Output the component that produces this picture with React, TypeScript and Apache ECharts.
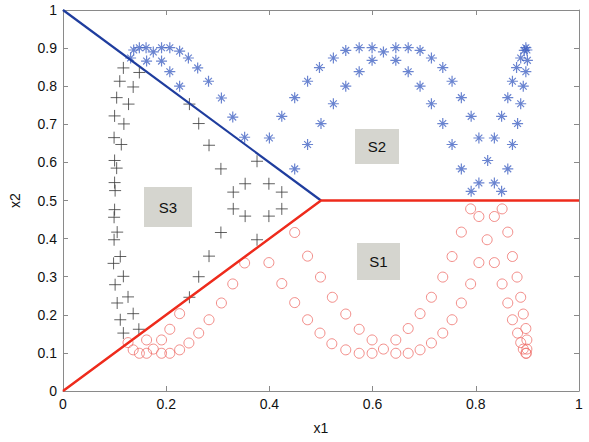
import React, { useEffect, useRef } from "react";
import * as echarts from "echarts";

// S2 samples (blue asterisks)
const s2Points: number[][] = [
  [0.131, 0.874], [0.137, 0.895], [0.148, 0.901], [0.161, 0.901], [0.175, 0.89], [0.191, 0.901],
  [0.207, 0.901], [0.226, 0.892], [0.243, 0.874], [0.261, 0.848], [0.282, 0.813], [0.307, 0.769],
  [0.329, 0.719], [0.352, 0.666],
  [0.162, 0.866], [0.191, 0.866], [0.207, 0.838], [0.226, 0.8],
  [0.4, 0.664], [0.424, 0.721], [0.449, 0.77], [0.474, 0.813], [0.497, 0.849], [0.524, 0.874],
  [0.548, 0.894], [0.574, 0.901], [0.599, 0.901], [0.621, 0.89], [0.645, 0.901], [0.669, 0.901],
  [0.692, 0.894], [0.714, 0.874], [0.736, 0.849], [0.754, 0.813], [0.772, 0.77], [0.791, 0.721],
  [0.806, 0.664], [0.823, 0.605], [0.836, 0.664], [0.85, 0.721], [0.862, 0.77], [0.871, 0.813],
  [0.879, 0.849], [0.887, 0.874], [0.894, 0.894], [0.897, 0.901],
  [0.449, 0.583], [0.474, 0.647], [0.5, 0.702], [0.524, 0.754], [0.548, 0.8], [0.574, 0.838],
  [0.599, 0.868], [0.645, 0.868], [0.669, 0.838], [0.692, 0.8], [0.714, 0.754], [0.736, 0.702],
  [0.754, 0.647], [0.772, 0.583], [0.791, 0.524], [0.806, 0.546], [0.836, 0.546], [0.85, 0.524],
  [0.862, 0.583], [0.871, 0.647], [0.881, 0.702], [0.887, 0.754], [0.892, 0.8], [0.897, 0.838],
  [0.9, 0.868], [0.899, 0.895],
];

// S3 samples (black plus)
const s3Points: number[][] = [
  [0.117, 0.848], [0.148, 0.836], [0.11, 0.813], [0.136, 0.798], [0.104, 0.77], [0.127, 0.753],
  [0.1, 0.722], [0.118, 0.701], [0.099, 0.665], [0.113, 0.647], [0.1, 0.605], [0.104, 0.585],
  [0.1, 0.547], [0.101, 0.526], [0.1, 0.476], [0.099, 0.456], [0.105, 0.417], [0.099, 0.397],
  [0.111, 0.353], [0.098, 0.335], [0.117, 0.301], [0.101, 0.279], [0.126, 0.247], [0.105, 0.231],
  [0.136, 0.203], [0.111, 0.187], [0.147, 0.162], [0.117, 0.152],
  [0.245, 0.753], [0.263, 0.702], [0.283, 0.645], [0.306, 0.583], [0.33, 0.522], [0.353, 0.544],
  [0.376, 0.603], [0.399, 0.544], [0.424, 0.522], [0.33, 0.478], [0.353, 0.459], [0.376, 0.397],
  [0.399, 0.459], [0.424, 0.478], [0.306, 0.416], [0.283, 0.354], [0.263, 0.3], [0.245, 0.246],
];

// S1 samples (red circles)
const s1Points: number[][] = [
  [0.126, 0.127], [0.136, 0.108], [0.148, 0.099], [0.162, 0.099], [0.175, 0.11], [0.191, 0.099],
  [0.207, 0.099], [0.226, 0.108], [0.244, 0.126], [0.263, 0.152], [0.283, 0.187], [0.307, 0.231],
  [0.329, 0.281], [0.352, 0.336],
  [0.162, 0.134], [0.191, 0.134], [0.207, 0.162], [0.226, 0.203],
  [0.399, 0.337], [0.424, 0.282], [0.449, 0.232], [0.474, 0.187], [0.498, 0.152], [0.521, 0.124],
  [0.548, 0.108], [0.574, 0.099], [0.599, 0.099], [0.621, 0.11], [0.645, 0.099], [0.669, 0.099],
  [0.692, 0.108], [0.714, 0.126], [0.736, 0.152], [0.754, 0.187], [0.772, 0.231], [0.79, 0.281],
  [0.806, 0.337], [0.822, 0.397], [0.836, 0.337], [0.851, 0.281], [0.862, 0.231], [0.871, 0.187],
  [0.881, 0.152], [0.887, 0.127], [0.892, 0.11], [0.897, 0.099],
  [0.449, 0.416], [0.474, 0.354], [0.499, 0.299], [0.522, 0.246], [0.548, 0.202], [0.574, 0.162],
  [0.599, 0.134], [0.645, 0.134], [0.669, 0.164], [0.692, 0.203], [0.714, 0.246], [0.736, 0.299],
  [0.754, 0.353], [0.772, 0.417], [0.79, 0.478], [0.806, 0.458], [0.836, 0.458], [0.851, 0.478],
  [0.862, 0.417], [0.871, 0.353], [0.88, 0.299], [0.887, 0.246], [0.892, 0.202], [0.897, 0.164],
  [0.899, 0.134], [0.899, 0.11], [0.898, 0.099],
];

const blueBoundary: number[][] = [[0, 1], [0.5, 0.5]];
const redBoundary: number[][] = [[0, 0], [0.5, 0.5], [1, 0.5]];

const regionLabels = [
  { text: "S3", x: 144, y: 187, w: 48, h: 40 },
  { text: "S2", x: 355, y: 129, w: 44, h: 35 },
  { text: "S1", x: 357, y: 243, w: 43, h: 37 },
];

const FONT = "'Liberation Sans', Arial, sans-serif";

export default function App() {
  const ref = useRef<HTMLDivElement>(null);
  useEffect(() => {
    if (!ref.current) return;
    const chart = echarts.init(ref.current, null, { renderer: "svg" });
    const axisCommon = {
      type: "value" as const,
      min: 0,
      max: 1,
      axisLine: { show: true, onZero: false, lineStyle: { color: "#8a8a8a", width: 1 } },
      axisTick: { show: true, inside: true, length: 5, lineStyle: { color: "#8a8a8a" } },
      splitLine: { show: false },
    };
    const labelStyle = { color: "#111", fontSize: 14, fontFamily: FONT };
    chart.setOption({
      animation: false,
      backgroundColor: "#ffffff",
      grid: { left: 56, right: 10, top: 10, bottom: 51, containLabel: false },
      xAxis: [
        {
          ...axisCommon,
          position: "bottom",
          interval: 0.2,
          name: "x1",
          nameLocation: "middle",
          nameGap: 30,
          nameTextStyle: { color: "#111", fontSize: 14, fontFamily: FONT },
          axisLabel: { ...labelStyle, margin: 6, formatter: (v: number) => String(+v.toFixed(1)) },
        },
        {
          ...axisCommon,
          position: "top",
          interval: 0.2,
          axisLabel: { show: false },
        },
      ],
      yAxis: [
        {
          ...axisCommon,
          position: "left",
          interval: 0.1,
          name: "x2",
          nameLocation: "middle",
          nameGap: 41,
          nameTextStyle: { color: "#111", fontSize: 14, fontFamily: FONT },
          axisLabel: { ...labelStyle, margin: 6, formatter: (v: number) => String(+v.toFixed(1)) },
        },
        {
          ...axisCommon,
          position: "right",
          interval: 0.1,
          axisLabel: { show: false },
        },
      ],
      series: [
        {
          type: "scatter",
          data: s2Points,
          symbol: "path://M0,-1L0,1M-1,0L1,0M-0.62,-0.62L0.62,0.62M-0.62,0.62L0.62,-0.62",
          symbolSize: 11,
          itemStyle: { color: "rgba(0,0,0,0)", borderColor: "#4565c4", borderWidth: 1.2 },
          z: 2,
        },
        {
          type: "scatter",
          data: s3Points,
          symbol: "path://M0,-1L0,1M-1,0L1,0",
          symbolSize: 12,
          itemStyle: { color: "rgba(0,0,0,0)", borderColor: "#3a3a3a", borderWidth: 1 },
          z: 2,
        },
        {
          type: "scatter",
          data: s1Points,
          symbol: "circle",
          symbolSize: 10,
          itemStyle: { color: "rgba(0,0,0,0)", borderColor: "#ef6f6a", borderWidth: 1 },
          z: 2,
        },
        {
          type: "line",
          data: blueBoundary,
          symbol: "none",
          lineStyle: { color: "#1f3d9e", width: 2.2 },
          z: 5,
        },
        {
          type: "line",
          data: redBoundary,
          symbol: "none",
          lineStyle: { color: "#ee2b1c", width: 2.5 },
          z: 5,
        },
      ],
      graphic: regionLabels.flatMap((r) => [
        {
          type: "rect",
          shape: { x: r.x, y: r.y, width: r.w, height: r.h },
          style: { fill: "#d5d5cf" },
          z: 10,
        },
        {
          type: "text",
          x: r.x + r.w / 2,
          y: r.y + r.h / 2,
          style: {
            text: r.text,
            fill: "#111",
            fontSize: 15,
            fontFamily: FONT,
            align: "center",
            verticalAlign: "middle",
          },
          z: 11,
        },
      ]),
    });
    return () => chart.dispose();
  }, []);
  return <div ref={ref} style={{ width: 589, height: 442, position: "absolute", left: 0, top: 0 }} />;
}
